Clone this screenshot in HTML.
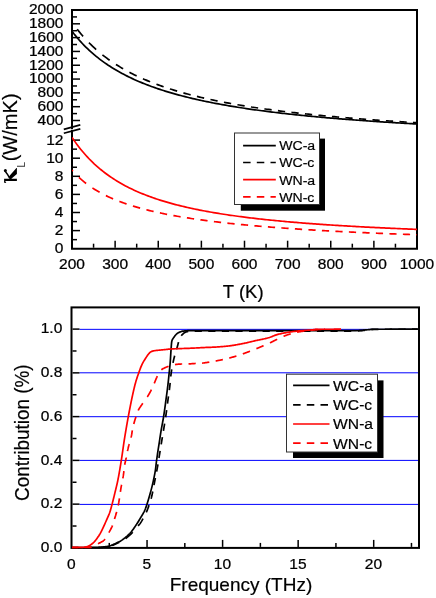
<!DOCTYPE html>
<html><head><meta charset="utf-8"><title>chart</title>
<style>html,body{margin:0;padding:0;background:#fff;}svg{display:block;will-change:transform;}</style></head>
<body>
<svg width="436" height="598" viewBox="0 0 436 598">
<rect width="436" height="598" fill="#fff"/>
<g stroke="#000" fill="none" stroke-width="2" stroke-linecap="square">
<path d="M72.0,248.7 L417.0,248.7 L417.0,10.0 L72.0,10.0 L72.0,128.2 M72.0,131.0 L72.0,248.7"/>
</g>
<g stroke="#000" fill="none" stroke-width="1.5">
<path d="M73.0,120.50 h7"/>
<path d="M73.0,113.59 h4"/>
<path d="M73.0,106.69 h7"/>
<path d="M73.0,99.78 h4"/>
<path d="M73.0,92.88 h7"/>
<path d="M73.0,85.97 h4"/>
<path d="M73.0,79.06 h7"/>
<path d="M73.0,72.16 h4"/>
<path d="M73.0,65.25 h7"/>
<path d="M73.0,58.34 h4"/>
<path d="M73.0,51.44 h7"/>
<path d="M73.0,44.53 h4"/>
<path d="M73.0,37.62 h7"/>
<path d="M73.0,30.72 h4"/>
<path d="M73.0,23.81 h7"/>
<path d="M73.0,16.91 h4"/>
<path d="M73.0,239.65 h4"/>
<path d="M73.0,230.60 h7"/>
<path d="M73.0,221.55 h4"/>
<path d="M73.0,212.50 h7"/>
<path d="M73.0,203.45 h4"/>
<path d="M73.0,194.40 h7"/>
<path d="M73.0,185.35 h4"/>
<path d="M73.0,176.30 h7"/>
<path d="M73.0,167.25 h4"/>
<path d="M73.0,158.20 h7"/>
<path d="M73.0,149.15 h4"/>
<path d="M73.0,140.10 h7"/>
<path d="M93.56,247.7 v-4"/>
<path d="M115.12,247.7 v-7"/>
<path d="M136.69,247.7 v-4"/>
<path d="M158.25,247.7 v-7"/>
<path d="M179.81,247.7 v-4"/>
<path d="M201.38,247.7 v-7"/>
<path d="M222.94,247.7 v-4"/>
<path d="M244.50,247.7 v-7"/>
<path d="M266.06,247.7 v-4"/>
<path d="M287.62,247.7 v-7"/>
<path d="M309.19,247.7 v-4"/>
<path d="M330.75,247.7 v-7"/>
<path d="M352.31,247.7 v-4"/>
<path d="M373.88,247.7 v-7"/>
<path d="M395.44,247.7 v-4"/>
<path d="M63.8,129.4 L80.3,124.9 M63.8,133.2 L80.3,128.9" stroke-width="1.7"/>
</g>
<clipPath id="c1"><rect x="72.0" y="10.0" width="345.3" height="239.7"/></clipPath>
<g clip-path="url(#c1)" fill="none" stroke-width="1.70">
<path d="M72.00,31.20 L73.72,33.45 L75.45,35.61 L77.17,37.69 L78.90,39.70 L80.62,41.63 L82.35,43.49 L84.08,45.29 L85.80,47.03 L87.53,48.71 L89.25,50.33 L90.97,51.90 L92.70,53.43 L94.42,54.90 L96.15,56.33 L97.88,57.71 L99.60,59.05 L101.33,60.36 L103.05,61.62 L104.78,62.85 L106.50,64.04 L108.22,65.21 L109.95,66.33 L111.68,67.43 L113.40,68.50 L115.12,69.54 L116.85,70.56 L118.58,71.54 L120.30,72.50 L122.03,73.44 L123.75,74.36 L125.47,75.25 L127.20,76.12 L128.93,76.97 L130.65,77.80 L132.38,78.61 L134.10,79.41 L135.82,80.18 L137.55,80.94 L139.28,81.68 L141.00,82.40 L142.73,83.11 L144.45,83.80 L146.18,84.48 L147.90,85.14 L149.62,85.79 L151.35,86.43 L153.07,87.05 L154.80,87.66 L156.53,88.26 L158.25,88.85 L159.98,89.42 L161.70,89.99 L163.43,90.54 L165.15,91.08 L166.88,91.62 L168.60,92.14 L170.32,92.65 L172.05,93.15 L173.78,93.65 L175.50,94.13 L177.23,94.61 L178.95,95.08 L180.68,95.54 L182.40,95.99 L184.12,96.44 L185.85,96.87 L187.57,97.30 L189.30,97.72 L191.03,98.14 L192.75,98.55 L194.48,98.95 L196.20,99.34 L197.93,99.73 L199.65,100.11 L201.38,100.49 L203.10,100.86 L204.83,101.23 L206.55,101.59 L208.28,101.94 L210.00,102.29 L211.72,102.63 L213.45,102.97 L215.18,103.30 L216.90,103.63 L218.62,103.95 L220.35,104.27 L222.08,104.58 L223.80,104.89 L225.53,105.20 L227.25,105.50 L228.97,105.79 L230.70,106.09 L232.43,106.37 L234.15,106.66 L235.88,106.94 L237.60,107.22 L239.33,107.49 L241.05,107.76 L242.78,108.02 L244.50,108.28 L246.23,108.54 L247.95,108.80 L249.68,109.05 L251.40,109.30 L253.12,109.54 L254.85,109.79 L256.58,110.03 L258.30,110.26 L260.02,110.50 L261.75,110.73 L263.48,110.95 L265.20,111.18 L266.93,111.40 L268.65,111.62 L270.38,111.84 L272.10,112.05 L273.83,112.26 L275.55,112.47 L277.27,112.68 L279.00,112.88 L280.73,113.09 L282.45,113.29 L284.18,113.48 L285.90,113.68 L287.62,113.87 L289.35,114.06 L291.08,114.25 L292.80,114.44 L294.52,114.62 L296.25,114.80 L297.98,114.98 L299.70,115.16 L301.43,115.34 L303.15,115.51 L304.88,115.69 L306.60,115.86 L308.33,116.03 L310.05,116.19 L311.77,116.36 L313.50,116.52 L315.23,116.69 L316.95,116.85 L318.68,117.00 L320.40,117.16 L322.12,117.32 L323.85,117.47 L325.58,117.62 L327.30,117.78 L329.03,117.92 L330.75,118.07 L332.48,118.22 L334.20,118.36 L335.93,118.51 L337.65,118.65 L339.38,118.79 L341.10,118.93 L342.82,119.07 L344.55,119.21 L346.28,119.34 L348.00,119.48 L349.73,119.61 L351.45,119.74 L353.18,119.87 L354.90,120.00 L356.62,120.13 L358.35,120.26 L360.07,120.38 L361.80,120.51 L363.53,120.63 L365.25,120.75 L366.98,120.87 L368.70,120.99 L370.43,121.11 L372.15,121.23 L373.88,121.35 L375.60,121.46 L377.32,121.58 L379.05,121.69 L380.78,121.81 L382.50,121.92 L384.23,122.03 L385.95,122.14 L387.68,122.25 L389.40,122.36 L391.12,122.47 L392.85,122.57 L394.57,122.68 L396.30,122.78 L398.03,122.89 L399.75,122.99 L401.48,123.09 L403.20,123.19 L404.93,123.29 L406.65,123.39 L408.38,123.49 L410.10,123.59 L411.83,123.69 L413.55,123.78 L415.28,123.88 L417.00,123.98" stroke="#000000"/>
<path d="M72.00,22.07 L72.56,22.87 M77.17,29.17 L78.90,31.36 L80.62,33.47 L82.35,35.51 L83.10,36.37 M88.95,42.67 L89.25,42.98 L90.97,44.70 L92.70,46.36 L94.42,47.96 L96.14,49.51 M102.44,54.80 L103.05,55.29 L104.78,56.63 L106.50,57.93 L108.22,59.20 L109.64,60.20 M115.94,64.44 L116.85,65.02 L118.58,66.09 L120.30,67.14 L122.03,68.16 L123.14,68.80 M129.44,72.26 L130.65,72.90 L132.38,73.78 L134.10,74.64 L135.82,75.48 L136.64,75.86 M142.94,78.75 L144.45,79.41 L146.18,80.14 L147.90,80.86 L149.62,81.57 L150.14,81.77 M156.44,84.21 L156.53,84.24 L158.25,84.88 L159.98,85.50 L161.70,86.11 L163.43,86.71 L163.64,86.78 M169.94,88.87 L170.32,89.00 L172.05,89.54 L173.78,90.08 L175.50,90.60 L177.14,91.09 M183.44,92.90 L184.12,93.09 L185.85,93.56 L187.57,94.03 L189.30,94.48 L190.64,94.83 M196.94,96.41 L197.93,96.65 L199.65,97.06 L201.38,97.47 L203.10,97.87 L204.14,98.11 M210.44,99.50 L211.72,99.78 L213.45,100.14 L215.18,100.50 L216.90,100.86 L217.64,101.01 M223.94,102.25 L225.53,102.55 L227.25,102.87 L228.97,103.19 L230.70,103.51 L231.14,103.59 M237.44,104.69 L237.60,104.72 L239.33,105.02 L241.05,105.31 L242.78,105.59 L244.50,105.87 L244.64,105.90 M250.94,106.89 L251.40,106.97 L253.12,107.23 L254.85,107.49 L256.58,107.75 L258.14,107.98 M264.44,108.88 L265.20,108.99 L266.93,109.23 L268.65,109.46 L270.38,109.70 L271.64,109.87 M277.94,110.69 L279.00,110.82 L280.73,111.04 L282.45,111.25 L284.18,111.47 L285.14,111.58 M291.44,112.33 L292.80,112.49 L294.52,112.69 L296.25,112.88 L297.98,113.08 L298.64,113.15 M304.94,113.84 L306.60,114.02 L308.33,114.20 L310.05,114.38 L311.77,114.55 L312.14,114.59 M318.44,115.22 L318.68,115.25 L320.40,115.42 L322.12,115.58 L323.85,115.75 L325.58,115.91 L325.64,115.92 M331.94,116.50 L332.48,116.55 L334.20,116.70 L335.93,116.86 L337.65,117.01 L339.14,117.14 M345.44,117.68 L346.28,117.75 L348.00,117.90 L349.73,118.04 L351.45,118.18 L352.64,118.28 M358.94,118.78 L360.07,118.87 L361.80,119.00 L363.53,119.13 L365.25,119.26 L366.14,119.33 M372.44,119.80 L373.88,119.90 L375.60,120.03 L377.32,120.15 L379.05,120.27 L379.64,120.31 M385.94,120.75 L385.95,120.75 L387.68,120.87 L389.40,120.98 L391.12,121.10 L392.85,121.21 L393.14,121.23 M399.44,121.64 L399.75,121.66 L401.48,121.77 L403.20,121.87 L404.93,121.98 L406.64,122.09 M412.94,122.47 L413.55,122.51 L415.28,122.61 L417.00,122.71" stroke="#000000"/>
<path d="M72.00,137.37 L73.72,139.93 L75.45,142.38 L77.17,144.74 L78.90,147.01 L80.62,149.19 L82.35,151.29 L84.08,153.32 L85.80,155.27 L87.53,157.15 L89.25,158.97 L90.97,160.72 L92.70,162.40 L94.42,164.04 L96.15,165.61 L97.88,167.13 L99.60,168.61 L101.33,170.03 L103.05,171.41 L104.78,172.74 L106.50,174.03 L108.22,175.28 L109.95,176.49 L111.68,177.66 L113.40,178.80 L115.12,179.91 L116.85,180.98 L118.58,182.02 L120.30,183.03 L122.03,184.01 L123.75,184.96 L125.47,185.89 L127.20,186.79 L128.93,187.66 L130.65,188.51 L132.38,189.34 L134.10,190.15 L135.82,190.94 L137.55,191.70 L139.28,192.45 L141.00,193.17 L142.73,193.88 L144.45,194.57 L146.18,195.24 L147.90,195.90 L149.62,196.54 L151.35,197.17 L153.07,197.78 L154.80,198.37 L156.53,198.96 L158.25,199.52 L159.98,200.08 L161.70,200.62 L163.43,201.15 L165.15,201.67 L166.88,202.18 L168.60,202.68 L170.32,203.16 L172.05,203.64 L173.78,204.10 L175.50,204.56 L177.23,205.00 L178.95,205.44 L180.68,205.87 L182.40,206.29 L184.12,206.70 L185.85,207.10 L187.57,207.49 L189.30,207.88 L191.03,208.26 L192.75,208.63 L194.48,208.99 L196.20,209.35 L197.93,209.70 L199.65,210.05 L201.38,210.38 L203.10,210.71 L204.83,211.04 L206.55,211.36 L208.28,211.67 L210.00,211.98 L211.72,212.28 L213.45,212.58 L215.18,212.87 L216.90,213.16 L218.62,213.44 L220.35,213.72 L222.08,213.99 L223.80,214.26 L225.53,214.52 L227.25,214.78 L228.97,215.04 L230.70,215.29 L232.43,215.53 L234.15,215.78 L235.88,216.01 L237.60,216.25 L239.33,216.48 L241.05,216.71 L242.78,216.93 L244.50,217.15 L246.23,217.37 L247.95,217.58 L249.68,217.79 L251.40,218.00 L253.12,218.21 L254.85,218.41 L256.58,218.61 L258.30,218.80 L260.02,218.99 L261.75,219.18 L263.48,219.37 L265.20,219.55 L266.93,219.74 L268.65,219.92 L270.38,220.09 L272.10,220.27 L273.83,220.44 L275.55,220.61 L277.27,220.77 L279.00,220.94 L280.73,221.10 L282.45,221.26 L284.18,221.42 L285.90,221.58 L287.62,221.73 L289.35,221.88 L291.08,222.03 L292.80,222.18 L294.52,222.33 L296.25,222.47 L297.98,222.61 L299.70,222.75 L301.43,222.89 L303.15,223.03 L304.88,223.17 L306.60,223.30 L308.33,223.43 L310.05,223.56 L311.77,223.69 L313.50,223.82 L315.23,223.94 L316.95,224.07 L318.68,224.19 L320.40,224.31 L322.12,224.43 L323.85,224.55 L325.58,224.67 L327.30,224.78 L329.03,224.90 L330.75,225.01 L332.48,225.12 L334.20,225.23 L335.93,225.34 L337.65,225.45 L339.38,225.56 L341.10,225.66 L342.82,225.77 L344.55,225.87 L346.28,225.97 L348.00,226.07 L349.73,226.17 L351.45,226.27 L353.18,226.37 L354.90,226.47 L356.62,226.56 L358.35,226.66 L360.07,226.75 L361.80,226.85 L363.53,226.94 L365.25,227.03 L366.98,227.12 L368.70,227.21 L370.43,227.29 L372.15,227.38 L373.88,227.47 L375.60,227.55 L377.32,227.64 L379.05,227.72 L380.78,227.81 L382.50,227.89 L384.23,227.97 L385.95,228.05 L387.68,228.13 L389.40,228.21 L391.12,228.29 L392.85,228.36 L394.57,228.44 L396.30,228.52 L398.03,228.59 L399.75,228.66 L401.48,228.74 L403.20,228.81 L404.93,228.88 L406.65,228.96 L408.38,229.03 L410.10,229.10 L411.83,229.17 L413.55,229.24 L415.28,229.30 L417.00,229.37" stroke="#ff0000"/>
<path d="M72.00,170.15 L72.85,171.12 M78.90,177.35 L80.62,178.93 L82.35,180.43 L84.08,181.86 L85.80,183.23 L86.10,183.46 M92.40,187.94 L92.70,188.14 L94.42,189.24 L96.15,190.30 L97.88,191.32 L99.60,192.30 L99.60,192.30 M105.90,195.58 L106.50,195.88 L108.22,196.70 L109.95,197.49 L111.68,198.26 L113.10,198.87 M119.40,201.41 L120.30,201.75 L122.03,202.38 L123.75,203.00 L125.47,203.61 L126.60,203.99 M132.90,206.01 L134.10,206.38 L135.82,206.89 L137.55,207.39 L139.28,207.88 L140.10,208.10 M146.40,209.77 L147.90,210.14 L149.62,210.57 L151.35,210.98 L153.07,211.38 L153.60,211.50 M159.90,212.90 L159.98,212.91 L161.70,213.27 L163.43,213.63 L165.15,213.98 L166.88,214.32 L167.10,214.36 M173.40,215.55 L173.78,215.62 L175.50,215.93 L177.23,216.23 L178.95,216.53 L180.60,216.81 M186.90,217.83 L187.57,217.94 L189.30,218.21 L191.03,218.47 L192.75,218.73 L194.10,218.93 M200.40,219.82 L201.38,219.96 L203.10,220.19 L204.83,220.42 L206.55,220.65 L207.60,220.78 M213.90,221.57 L215.18,221.73 L216.90,221.93 L218.62,222.14 L220.35,222.34 L221.10,222.42 M227.40,223.13 L228.97,223.30 L230.70,223.48 L232.43,223.66 L234.15,223.84 L234.60,223.89 M240.90,224.52 L241.05,224.53 L242.78,224.70 L244.50,224.86 L246.23,225.02 L247.95,225.19 L248.10,225.20 M254.40,225.77 L254.85,225.81 L256.58,225.96 L258.30,226.11 L260.02,226.25 L261.60,226.38 M267.90,226.90 L268.65,226.96 L270.38,227.10 L272.10,227.23 L273.83,227.36 L275.10,227.46 M281.40,227.93 L282.45,228.01 L284.18,228.13 L285.90,228.25 L287.62,228.37 L288.60,228.44 M294.90,228.87 L296.25,228.96 L297.98,229.08 L299.70,229.19 L301.43,229.30 L302.10,229.34 M308.40,229.74 L310.05,229.84 L311.77,229.94 L313.50,230.05 L315.23,230.15 L315.60,230.17 M321.90,230.53 L322.12,230.55 L323.85,230.64 L325.58,230.74 L327.30,230.84 L329.03,230.93 L329.10,230.93 M335.40,231.27 L335.93,231.30 L337.65,231.39 L339.38,231.48 L341.10,231.57 L342.60,231.64 M348.90,231.95 L349.73,231.99 L351.45,232.08 L353.18,232.16 L354.90,232.24 L356.10,232.30 M362.40,232.59 L363.53,232.64 L365.25,232.72 L366.98,232.80 L368.70,232.87 L369.60,232.91 M375.90,233.18 L377.32,233.24 L379.05,233.31 L380.78,233.39 L382.50,233.46 L383.10,233.48 M389.40,233.74 L391.12,233.80 L392.85,233.87 L394.57,233.94 L396.30,234.01 L396.60,234.02 M402.90,234.26 L403.20,234.27 L404.93,234.33 L406.65,234.39 L408.38,234.46 L410.10,234.52 M416.40,234.74 L417.00,234.76" stroke="#ff0000"/>
</g>
<rect x="240.8" y="138.6" width="84.19999999999999" height="72.1" fill="#000"/>
<rect x="234.5" y="133.0" width="85" height="71.5" fill="#fff" stroke="#333" stroke-width="1"/>
<path d="M243.1,145.6 L275.8,145.6" stroke="#000000" stroke-width="1.7" fill="none"/>
<text transform="matrix(1.03 0.0002 0 1 279.2 150.4)" font-family="Liberation Sans, sans-serif" font-size="13.7" fill="#000" stroke="#000" stroke-width="0.2">WC-a</text>
<path d="M243.1,162.5 L275.8,162.5" stroke="#000000" stroke-width="1.7" stroke-dasharray="7.5 6.2" fill="none"/>
<text transform="matrix(1.03 0.0002 0 1 279.2 167.3)" font-family="Liberation Sans, sans-serif" font-size="13.7" fill="#000" stroke="#000" stroke-width="0.2">WC-c</text>
<path d="M243.1,179.7 L275.8,179.7" stroke="#ff0000" stroke-width="1.7" fill="none"/>
<text transform="matrix(1.03 0.0002 0 1 279.2 184.5)" font-family="Liberation Sans, sans-serif" font-size="13.7" fill="#000" stroke="#000" stroke-width="0.2">WN-a</text>
<path d="M243.1,196.8 L275.8,196.8" stroke="#ff0000" stroke-width="1.7" stroke-dasharray="7.5 6.2" fill="none"/>
<text transform="matrix(1.03 0.0002 0 1 279.2 201.60000000000002)" font-family="Liberation Sans, sans-serif" font-size="13.7" fill="#000" stroke="#000" stroke-width="0.2">WN-c</text>
<g font-family="Liberation Sans, sans-serif" font-size="15" fill="#000" stroke="#000" stroke-width="0.25">
<text transform="matrix(1.035 0.0002 0 1 63.5 124.90)" text-anchor="end">400</text>
<text transform="matrix(1.035 0.0002 0 1 63.5 111.09)" text-anchor="end">600</text>
<text transform="matrix(1.035 0.0002 0 1 63.5 97.28)" text-anchor="end">800</text>
<text transform="matrix(1.035 0.0002 0 1 63.5 83.46)" text-anchor="end">1000</text>
<text transform="matrix(1.035 0.0002 0 1 63.5 69.65)" text-anchor="end">1200</text>
<text transform="matrix(1.035 0.0002 0 1 63.5 55.84)" text-anchor="end">1400</text>
<text transform="matrix(1.035 0.0002 0 1 63.5 42.02)" text-anchor="end">1600</text>
<text transform="matrix(1.035 0.0002 0 1 63.5 28.21)" text-anchor="end">1800</text>
<text transform="matrix(1.035 0.0002 0 1 63.5 14.40)" text-anchor="end">2000</text>
<text transform="matrix(1.035 0.0002 0 1 63.5 253.20)" text-anchor="end">0</text>
<text transform="matrix(1.035 0.0002 0 1 63.5 235.10)" text-anchor="end">2</text>
<text transform="matrix(1.035 0.0002 0 1 63.5 217.00)" text-anchor="end">4</text>
<text transform="matrix(1.035 0.0002 0 1 63.5 198.90)" text-anchor="end">6</text>
<text transform="matrix(1.035 0.0002 0 1 63.5 180.80)" text-anchor="end">8</text>
<text transform="matrix(1.035 0.0002 0 1 63.5 162.70)" text-anchor="end">10</text>
<text transform="matrix(1.035 0.0002 0 1 63.5 144.60)" text-anchor="end">12</text>
<text transform="matrix(1.035 0.0002 0 1 72.00 269.1)" text-anchor="middle">200</text>
<text transform="matrix(1.035 0.0002 0 1 115.12 269.1)" text-anchor="middle">300</text>
<text transform="matrix(1.035 0.0002 0 1 158.25 269.1)" text-anchor="middle">400</text>
<text transform="matrix(1.035 0.0002 0 1 201.38 269.1)" text-anchor="middle">500</text>
<text transform="matrix(1.035 0.0002 0 1 244.50 269.1)" text-anchor="middle">600</text>
<text transform="matrix(1.035 0.0002 0 1 287.62 269.1)" text-anchor="middle">700</text>
<text transform="matrix(1.035 0.0002 0 1 330.75 269.1)" text-anchor="middle">800</text>
<text transform="matrix(1.035 0.0002 0 1 373.88 269.1)" text-anchor="middle">900</text>
<text transform="matrix(1.035 0.0002 0 1 417.00 269.1)" text-anchor="middle">1000</text>
</g>
<text transform="matrix(1 0.0002 0 1 0 0)" x="243.2" y="297.6" text-anchor="middle" font-family="Liberation Sans, sans-serif" font-size="18.5" fill="#000" stroke="#000" stroke-width="0.2">T (K)</text>
<g transform="translate(17.2,183.5) rotate(-90)" fill="#000">
<path d="M2.4,-13.1 H4.7 V-0.3 H2.4 Z M0.4,-10.9 L0.8,-13.1 L2.5,-13.1 L2.5,-12.0 Z M4.7,-7.4 L6.8,-8.5 L15.4,-0.8 L15.4,-0.3 L9.4,-0.3 L4.7,-5.9 Z" fill="#000"/>
<path d="M5.0,-7.4 Q9.0,-9.3 12.7,-12.4" fill="none" stroke="#000" stroke-width="1.5"/><circle cx="13.0" cy="-11.8" r="1.5" fill="#000"/>
<text x="16" y="7.5" font-family="Liberation Sans, sans-serif" font-size="10" fill="#333">L</text>
<text transform="translate(22.2,0) scale(0.955,1)" x="0" y="0" font-family="Liberation Sans, sans-serif" font-size="21" stroke="#000" stroke-width="0.2">(W/mK)</text>
</g>
<g stroke="#0000ff" stroke-width="1" fill="none">
<path d="M79.5,504.40 L418.2,504.40"/>
<path d="M79.5,460.40 L418.2,460.40"/>
<path d="M79.5,416.70 L418.2,416.70"/>
<path d="M79.5,372.80 L418.2,372.80"/>
<path d="M79.5,329.35 L418.2,329.35"/>
</g>
<g stroke="#000" fill="none" stroke-width="2" stroke-linecap="square">
<rect x="71.5" y="307.4" width="347.5" height="240.5"/>
</g>
<g stroke="#000" fill="none" stroke-width="1.5">
<path d="M72.5,526.02 h4"/>
<path d="M72.5,504.14 h7"/>
<path d="M72.5,482.26 h4"/>
<path d="M72.5,460.38 h7"/>
<path d="M72.5,438.50 h4"/>
<path d="M72.5,416.62 h7"/>
<path d="M72.5,394.74 h4"/>
<path d="M72.5,372.86 h7"/>
<path d="M72.5,350.98 h4"/>
<path d="M72.5,329.10 h7"/>
<path d="M109.28,546.9 v-4"/>
<path d="M147.05,546.9 v-7"/>
<path d="M184.82,546.9 v-4"/>
<path d="M222.60,546.9 v-7"/>
<path d="M260.38,546.9 v-4"/>
<path d="M298.15,546.9 v-7"/>
<path d="M335.93,546.9 v-4"/>
<path d="M373.70,546.9 v-7"/>
<path d="M411.47,546.9 v-4"/>
</g>
<clipPath id="c2"><rect x="71.5" y="307.4" width="346.3" height="241.7"/></clipPath>
<g clip-path="url(#c2)" fill="none" stroke-width="1.70" stroke-linejoin="round">
<path d="M72.00,547.60 L73.03,547.59 L74.06,547.58 L75.08,547.57 L76.11,547.56 L77.14,547.55 L78.17,547.54 L79.20,547.53 L80.22,547.53 L81.25,547.52 L82.28,547.51 L83.31,547.50 L84.34,547.49 L85.36,547.49 L86.39,547.48 L87.42,547.47 L88.45,547.46 L89.48,547.45 L90.50,547.44 L91.53,547.43 L92.56,547.41 L93.59,547.40 L94.61,547.39 L95.64,547.37 L96.66,547.36 L97.69,547.34 L98.72,547.32 L99.74,547.30 L100.77,547.27 L101.79,547.19 L102.82,547.09 L103.84,546.96 L104.86,546.82 L105.87,546.67 L106.89,546.50 L107.90,546.30 L108.91,546.08 L109.90,545.83 L110.87,545.53 L111.83,545.17 L112.78,544.77 L113.72,544.34 L114.65,543.90 L115.59,543.46 L116.52,543.03 L117.45,542.59 L118.38,542.14 L119.30,541.66 L120.20,541.17 L121.07,540.65 L121.94,540.10 L122.78,539.52 L123.62,538.92 L124.44,538.29 L125.25,537.65 L126.04,536.99 L126.82,536.33 L127.58,535.64 L128.33,534.93 L129.07,534.21 L129.79,533.47 L130.48,532.71 L131.15,531.94 L131.80,531.15 L132.42,530.34 L133.03,529.51 L133.62,528.67 L134.21,527.82 L134.79,526.96 L135.36,526.11 L135.93,525.25 L136.50,524.40 L137.06,523.54 L137.62,522.67 L138.17,521.80 L138.71,520.93 L139.25,520.05 L139.78,519.17 L140.31,518.29 L140.83,517.41 L141.36,516.52 L141.89,515.64 L142.42,514.75 L142.93,513.85 L143.43,512.95 L143.92,512.05 L144.38,511.13 L144.81,510.21 L145.21,509.27 L145.58,508.32 L145.93,507.35 L146.26,506.37 L146.58,505.39 L146.90,504.41 L147.21,503.44 L147.52,502.46 L147.83,501.48 L148.14,500.50 L148.44,499.51 L148.74,498.53 L149.03,497.54 L149.32,496.56 L149.61,495.57 L149.89,494.58 L150.16,493.59 L150.44,492.60 L150.70,491.61 L150.97,490.62 L151.23,489.62 L151.49,488.63 L151.74,487.63 L151.99,486.63 L152.24,485.64 L152.48,484.64 L152.71,483.64 L152.94,482.63 L153.16,481.63 L153.38,480.63 L153.59,479.62 L153.81,478.62 L154.02,477.61 L154.22,476.60 L154.42,475.59 L154.61,474.58 L154.80,473.57 L154.98,472.56 L155.16,471.55 L155.32,470.54 L155.47,469.52 L155.61,468.50 L155.74,467.49 L155.87,466.47 L155.98,465.44 L156.10,464.42 L156.22,463.40 L156.34,462.38 L156.46,461.36 L156.59,460.34 L156.73,459.32 L156.88,458.31 L157.02,457.29 L157.17,456.27 L157.32,455.26 L157.47,454.24 L157.62,453.22 L157.77,452.21 L157.93,451.19 L158.08,450.18 L158.24,449.16 L158.40,448.14 L158.55,447.13 L158.71,446.11 L158.87,445.10 L159.03,444.08 L159.18,443.07 L159.34,442.05 L159.49,441.04 L159.65,440.02 L159.80,439.00 L159.95,437.99 L160.11,436.97 L160.26,435.96 L160.42,434.94 L160.57,433.92 L160.73,432.91 L160.89,431.89 L161.05,430.88 L161.22,429.87 L161.40,428.85 L161.58,427.84 L161.76,426.83 L161.95,425.82 L162.14,424.81 L162.33,423.80 L162.52,422.79 L162.71,421.78 L162.90,420.77 L163.08,419.76 L163.26,418.75 L163.43,417.74 L163.60,416.72 L163.75,415.71 L163.91,414.69 L164.06,413.68 L164.21,412.66 L164.36,411.64 L164.50,410.63 L164.64,409.61 L164.79,408.59 L164.92,407.57 L165.06,406.55 L165.20,405.53 L165.34,404.52 L165.47,403.50 L165.61,402.48 L165.74,401.46 L165.88,400.44 L166.02,399.42 L166.15,398.40 L166.29,397.39 L166.43,396.37 L166.57,395.35 L166.71,394.33 L166.84,393.31 L166.98,392.29 L167.11,391.28 L167.25,390.26 L167.38,389.24 L167.51,388.22 L167.64,387.20 L167.76,386.18 L167.88,385.16 L168.00,384.14 L168.11,383.12 L168.23,382.10 L168.34,381.07 L168.45,380.05 L168.55,379.03 L168.66,378.01 L168.76,376.99 L168.87,375.96 L168.97,374.94 L169.08,373.92 L169.18,372.90 L169.28,371.88 L169.39,370.85 L169.50,369.83 L169.60,368.81 L169.71,367.79 L169.81,366.76 L169.91,365.74 L170.01,364.72 L170.10,363.70 L170.19,362.67 L170.27,361.65 L170.34,360.62 L170.41,359.60 L170.48,358.57 L170.54,357.55 L170.60,356.52 L170.66,355.50 L170.72,354.47 L170.79,353.44 L170.85,352.42 L170.92,351.39 L170.99,350.37 L171.06,349.34 L171.14,348.32 L171.21,347.28 L171.28,346.24 L171.36,345.19 L171.44,344.16 L171.54,343.14 L171.66,342.13 L171.81,341.16 L172.09,340.21 L172.56,339.28 L173.14,338.38 L173.74,337.52 L174.33,336.69 L174.97,335.84 L175.64,335.01 L176.37,334.24 L177.13,333.56 L177.93,333.03 L178.80,332.56 L179.74,332.12 L180.73,331.73 L181.74,331.41 L182.76,331.18 L183.76,331.05 L184.77,330.94 L185.80,330.84 L186.83,330.77 L187.86,330.72 L188.89,330.70 L189.92,330.69 L190.95,330.69 L191.97,330.68 L193.00,330.68 L194.03,330.67 L195.06,330.67 L196.08,330.67 L197.11,330.66 L198.14,330.66 L199.17,330.66 L200.19,330.65 L201.22,330.65 L202.25,330.65 L203.28,330.65 L204.31,330.65 L205.33,330.65 L206.36,330.65 L207.39,330.65 L208.42,330.65 L209.44,330.65 L210.47,330.65 L211.50,330.65 L212.53,330.65 L213.55,330.65 L214.58,330.65 L215.61,330.65 L216.64,330.65 L217.66,330.65 L218.69,330.65 L219.72,330.65 L220.75,330.65 L221.77,330.65 L222.80,330.65 L223.83,330.65 L224.86,330.65 L225.88,330.65 L226.91,330.65 L227.94,330.65 L228.97,330.65 L229.99,330.65 L231.02,330.65 L232.05,330.65 L233.08,330.65 L234.10,330.65 L235.13,330.65 L236.16,330.65 L237.19,330.65 L238.21,330.65 L239.24,330.65 L240.27,330.65 L241.30,330.65 L242.32,330.65 L243.35,330.65 L244.38,330.65 L245.41,330.65 L246.43,330.65 L247.46,330.65 L248.49,330.65 L249.52,330.65 L250.54,330.65 L251.57,330.65 L252.60,330.65 L253.63,330.65 L254.65,330.65 L255.68,330.65 L256.71,330.65 L257.74,330.65 L258.76,330.65 L259.79,330.65 L260.82,330.65 L261.85,330.65 L262.87,330.65 L263.90,330.65 L264.93,330.65 L265.96,330.65 L266.98,330.65 L268.01,330.65 L269.04,330.65 L270.07,330.65 L271.09,330.65 L272.12,330.65 L273.15,330.65 L274.18,330.65 L275.20,330.65 L276.23,330.65 L277.26,330.65 L278.29,330.65 L279.31,330.65 L280.34,330.65 L281.37,330.65 L282.40,330.65 L283.42,330.65 L284.45,330.65 L285.48,330.65 L286.51,330.65 L287.53,330.65 L288.56,330.65 L289.59,330.65 L290.62,330.65 L291.64,330.65 L292.67,330.65 L293.70,330.65 L294.73,330.65 L295.75,330.65 L296.78,330.65 L297.81,330.65 L298.84,330.65 L299.86,330.65 L300.89,330.65 L301.92,330.65 L302.95,330.65 L303.97,330.65 L305.00,330.65 L306.03,330.65 L307.06,330.65 L308.08,330.65 L309.11,330.65 L310.14,330.65 L311.17,330.65 L312.19,330.65 L313.22,330.65 L314.25,330.65 L315.28,330.65 L316.30,330.65 L317.33,330.65 L318.36,330.65 L319.39,330.65 L320.41,330.65 L321.44,330.65 L322.47,330.65 L323.50,330.65 L324.53,330.65 L325.55,330.65 L326.58,330.65 L327.61,330.65 L328.64,330.65 L329.66,330.65 L330.69,330.65 L331.72,330.65 L332.75,330.65 L333.77,330.65 L334.80,330.65 L335.83,330.65 L336.86,330.65 L337.88,330.65 L338.91,330.65 L339.94,330.65 L340.97,330.65 L341.99,330.65 L343.02,330.65 L344.05,330.65 L345.07,330.65 L346.10,330.65 L347.13,330.65 L348.16,330.65 L349.18,330.65 L350.21,330.65 L351.24,330.65 L352.27,330.65 L353.29,330.64 L354.32,330.62 L355.35,330.60 L356.38,330.56 L357.40,330.52 L358.43,330.48 L359.46,330.43 L360.48,330.38 L361.51,330.33 L362.53,330.27 L363.56,330.18 L364.58,330.08 L365.60,329.97 L366.62,329.85 L367.64,329.73 L368.67,329.63 L369.69,329.54 L370.71,329.44 L371.74,329.36 L372.76,329.29 L373.79,329.25 L374.82,329.25 L375.84,329.25 L376.87,329.24 L377.90,329.24 L378.92,329.24 L379.95,329.24 L380.98,329.24 L382.00,329.24 L383.03,329.23 L384.06,329.23 L385.08,329.23 L386.11,329.23 L387.14,329.23 L388.17,329.23 L389.19,329.23 L390.22,329.22 L391.25,329.22 L392.28,329.22 L393.30,329.22 L394.33,329.22 L395.36,329.22 L396.39,329.22 L397.42,329.22 L398.44,329.22 L399.47,329.22 L400.50,329.22 L401.53,329.21 L402.56,329.21 L403.58,329.21 L404.61,329.21 L405.64,329.21 L406.67,329.21 L407.69,329.21 L408.72,329.21 L409.75,329.21 L410.78,329.21 L411.81,329.21 L412.83,329.21 L413.86,329.21 L414.89,329.20 L415.92,329.20 L416.94,329.20 L417.97,329.20 L419.00,329.20" stroke="#000000"/>
<path d="M72.00,547.60 L72.57,547.60 L73.13,547.59 L73.70,547.59 L74.27,547.58 L74.83,547.58 L75.40,547.58 L75.96,547.57 L76.53,547.57 L77.10,547.57 L77.66,547.56 L78.23,547.56 L78.44,547.56 M84.82,547.53 L85.03,547.53 L85.59,547.52 L86.16,547.52 L86.73,547.52 L87.29,547.51 L87.86,547.51 L88.43,547.51 L88.99,547.50 L89.56,547.50 L90.12,547.49 L90.69,547.49 L91.26,547.49 L91.82,547.48 L92.02,547.48 M98.40,547.42 L98.61,547.42 L99.18,547.41 L99.75,547.40 L100.31,547.39 L100.88,547.38 L101.45,547.36 L102.01,547.33 L102.58,547.30 L103.15,547.26 L103.71,547.21 L104.28,547.17 L104.84,547.12 L105.40,547.06 L105.60,547.04 M111.98,545.48 L111.99,545.47 L112.52,545.28 L113.05,545.08 L113.58,544.87 L114.10,544.65 L114.62,544.42 L115.14,544.19 L115.66,543.96 L116.18,543.73 L116.70,543.50 L117.22,543.27 L117.73,543.04 L118.25,542.81 L118.77,542.57 L119.18,542.37 M125.56,538.59 L125.59,538.57 L126.05,538.22 L126.50,537.88 L126.95,537.53 L127.39,537.18 L127.83,536.82 L128.27,536.46 L128.70,536.10 L129.13,535.73 L129.55,535.36 L129.98,534.98 L130.39,534.59 L130.81,534.20 L131.22,533.81 L131.62,533.41 L132.02,533.01 L132.42,532.61 L132.74,532.27 M138.05,525.89 L138.24,525.67 L138.61,525.24 L139.00,524.82 L139.39,524.40 L139.76,523.98 L140.12,523.55 L140.45,523.09 L140.76,522.63 L141.07,522.15 L141.36,521.67 L141.65,521.18 L141.94,520.69 L142.22,520.19 L142.49,519.70 L142.76,519.20 L143.03,518.69 L143.03,518.69 M146.28,512.31 L146.37,512.12 L146.60,511.61 L146.83,511.09 L147.06,510.57 L147.28,510.05 L147.49,509.53 L147.70,509.01 L147.90,508.48 L148.09,507.95 L148.29,507.41 L148.47,506.88 L148.66,506.34 L148.84,505.80 L149.02,505.26 L149.07,505.11 M151.08,498.73 L151.22,498.24 L151.37,497.69 L151.52,497.14 L151.65,496.60 L151.78,496.05 L151.91,495.50 L152.04,494.95 L152.16,494.39 L152.28,493.84 L152.40,493.29 L152.52,492.74 L152.63,492.18 L152.74,491.63 L152.76,491.53 M153.97,485.15 L154.01,484.94 L154.12,484.39 L154.22,483.83 L154.33,483.27 L154.44,482.72 L154.55,482.16 L154.66,481.61 L154.77,481.05 L154.88,480.49 L154.99,479.94 L155.10,479.38 L155.21,478.83 L155.32,478.27 L155.39,477.95 M156.64,471.57 L156.74,471.05 L156.84,470.49 L156.95,469.94 L157.05,469.38 L157.15,468.82 L157.25,468.27 L157.35,467.71 L157.45,467.15 L157.55,466.59 L157.64,466.04 L157.74,465.48 L157.83,464.92 L157.93,464.37 M158.96,457.99 L159.02,457.65 L159.11,457.09 L159.20,456.54 L159.29,455.98 L159.38,455.42 L159.47,454.86 L159.56,454.30 L159.66,453.74 L159.75,453.18 L159.84,452.62 L159.93,452.06 L160.02,451.51 L160.11,450.95 L160.14,450.79 M161.17,444.41 L161.20,444.24 L161.29,443.68 L161.38,443.12 L161.48,442.56 L161.57,442.00 L161.66,441.45 L161.75,440.89 L161.84,440.33 L161.94,439.77 L162.03,439.21 L162.12,438.65 L162.22,438.09 L162.31,437.54 L162.36,437.21 M163.43,430.83 L163.53,430.28 L163.62,429.72 L163.71,429.16 L163.80,428.60 L163.89,428.04 L163.98,427.48 L164.08,426.92 L164.17,426.36 L164.26,425.80 L164.35,425.25 L164.44,424.69 L164.53,424.13 L164.61,423.63 M165.63,417.25 L165.69,416.86 L165.77,416.30 L165.85,415.74 L165.94,415.18 L166.02,414.62 L166.10,414.06 L166.18,413.50 L166.26,412.94 L166.33,412.37 L166.41,411.81 L166.49,411.25 L166.56,410.69 L166.64,410.13 L166.65,410.05 M167.47,403.67 L167.51,403.39 L167.58,402.83 L167.66,402.27 L167.73,401.71 L167.80,401.14 L167.88,400.58 L167.95,400.02 L168.03,399.46 L168.11,398.90 L168.19,398.34 L168.26,397.78 L168.34,397.22 L168.42,396.66 L168.45,396.47 M169.33,390.09 L169.35,389.92 L169.42,389.36 L169.49,388.80 L169.56,388.24 L169.63,387.68 L169.70,387.12 L169.76,386.55 L169.82,385.99 L169.88,385.43 L169.94,384.86 L170.00,384.30 L170.06,383.74 L170.11,383.17 L170.14,382.89 M170.77,376.51 L170.78,376.41 L170.85,375.84 L170.91,375.28 L170.98,374.72 L171.05,374.16 L171.12,373.60 L171.20,373.04 L171.28,372.48 L171.36,371.92 L171.44,371.36 L171.53,370.80 L171.62,370.24 L171.71,369.68 L171.77,369.31 M172.97,362.93 L173.08,362.44 L173.20,361.89 L173.31,361.33 L173.43,360.78 L173.56,360.23 L173.68,359.68 L173.80,359.13 L173.93,358.58 L174.07,358.03 L174.21,357.48 L174.35,356.93 L174.50,356.39 L174.65,355.84 L174.67,355.73 M176.55,349.35 L176.56,349.31 L176.72,348.77 L176.88,348.23 L177.04,347.68 L177.20,347.14 L177.36,346.59 L177.51,346.05 L177.66,345.50 L177.80,344.95 L177.94,344.40 L178.08,343.85 L178.21,343.29 L178.35,342.74 L178.49,342.19 L178.50,342.15 M181.27,335.77 L181.45,335.52 L181.81,335.09 L182.20,334.66 L182.61,334.26 L183.03,333.87 L183.46,333.51 L183.90,333.14 L184.36,332.78 L184.84,332.45 L185.33,332.17 L185.84,331.99 L186.37,331.85 L186.91,331.72 L187.47,331.61 L188.04,331.51 L188.29,331.47 M194.67,331.13 L194.84,331.12 L195.41,331.11 L195.98,331.11 L196.54,331.10 L197.11,331.10 L197.68,331.10 L198.24,331.10 L198.81,331.10 L199.38,331.10 L199.94,331.10 L200.51,331.10 L201.07,331.10 L201.64,331.10 L201.87,331.10 M208.25,331.10 L208.44,331.10 L209.00,331.10 L209.57,331.10 L210.14,331.10 L210.70,331.10 L211.27,331.10 L211.83,331.10 L212.40,331.10 L212.97,331.10 L213.53,331.10 L214.10,331.10 L214.67,331.10 L215.23,331.10 L215.45,331.10 M221.83,331.10 L222.03,331.10 L222.59,331.10 L223.16,331.10 L223.73,331.10 L224.29,331.10 L224.86,331.10 L225.42,331.10 L225.99,331.10 L226.56,331.10 L227.12,331.10 L227.69,331.10 L228.26,331.10 L228.82,331.10 L229.03,331.10 M235.41,331.10 L235.62,331.10 L236.18,331.10 L236.75,331.10 L237.32,331.10 L237.88,331.10 L238.45,331.10 L239.01,331.10 L239.58,331.10 L240.15,331.10 L240.71,331.10 L241.28,331.10 L241.85,331.10 L242.41,331.10 L242.61,331.10 M248.99,331.10 L249.21,331.10 L249.77,331.10 L250.34,331.10 L250.91,331.10 L251.47,331.10 L252.04,331.10 L252.60,331.10 L253.17,331.10 L253.74,331.10 L254.30,331.10 L254.87,331.10 L255.44,331.10 L256.00,331.10 L256.19,331.10 M262.57,331.10 L262.80,331.10 L263.36,331.10 L263.93,331.10 L264.50,331.10 L265.06,331.10 L265.63,331.10 L266.19,331.10 L266.76,331.10 L267.33,331.10 L267.89,331.10 L268.46,331.10 L269.03,331.10 L269.59,331.10 L269.77,331.10 M276.15,331.10 L276.39,331.10 L276.95,331.10 L277.52,331.10 L278.09,331.10 L278.65,331.10 L279.22,331.10 L279.78,331.10 L280.35,331.10 L280.92,331.10 L281.48,331.10 L282.05,331.10 L282.62,331.10 L283.18,331.10 L283.35,331.10 M289.73,331.10 L289.98,331.10 L290.54,331.10 L291.11,331.10 L291.68,331.10 L292.24,331.10 L292.81,331.10 L293.37,331.10 L293.94,331.10 L294.51,331.10 L295.07,331.10 L295.64,331.10 L296.21,331.10 L296.77,331.10 L296.93,331.10 M303.31,331.10 L303.57,331.10 L304.13,331.10 L304.70,331.10 L305.27,331.10 L305.83,331.10 L306.40,331.10 L306.97,331.10 L307.53,331.10 L308.10,331.10 L308.66,331.10 L309.23,331.10 L309.80,331.10 L310.36,331.10 L310.51,331.10 M316.89,331.10 L317.16,331.10 L317.73,331.10 L318.29,331.10 L318.86,331.10 L319.43,331.10 L319.99,331.10 L320.56,331.10 L321.12,331.10 L321.69,331.10 L322.26,331.10 L322.82,331.10 L323.39,331.10 L323.96,331.10 L324.09,331.10 M330.47,331.10 L330.75,331.10 L331.32,331.10 L331.88,331.10 L332.45,331.10 L333.02,331.10 L333.58,331.10 L334.15,331.10 L334.72,331.10 L335.28,331.10 L335.85,331.10 L336.41,331.10 L336.98,331.10 L337.55,331.10 L337.67,331.10 M344.05,331.10 L344.34,331.10 L344.91,331.10 L345.47,331.10 L346.04,331.10 L346.61,331.10 L347.17,331.10 L347.74,331.10 L348.30,331.10 L348.87,331.10 L349.44,331.10 L350.00,331.10 L350.57,331.10 L351.13,331.10 L351.25,331.10 M357.63,330.90 L357.92,330.88 L358.49,330.84 L359.06,330.81 L359.62,330.77 L360.19,330.73 L360.75,330.69 L361.32,330.65 L361.88,330.61 L362.44,330.57 L363.01,330.52 L363.57,330.46 L364.13,330.40 L364.69,330.33 L364.83,330.32 M371.21,329.52 L371.45,329.49 L372.01,329.43 L372.57,329.37 L373.14,329.33 L373.70,329.30 L374.27,329.30 L374.83,329.30 L375.40,329.29 L375.96,329.29 L376.53,329.29 L377.09,329.29 L377.66,329.29 L378.22,329.28 L378.41,329.28 M384.79,329.26 L385.01,329.26 L385.58,329.26 L386.14,329.26 L386.71,329.26 L387.27,329.26 L387.84,329.26 L388.41,329.25 L388.97,329.25 L389.54,329.25 L390.10,329.25 L390.67,329.25 L391.24,329.25 L391.80,329.25 L391.99,329.25 M398.37,329.23 L398.60,329.23 L399.17,329.23 L399.74,329.23 L400.30,329.23 L400.87,329.23 L401.44,329.23 L402.00,329.23 L402.57,329.23 L403.14,329.23 L403.70,329.23 L404.27,329.23 L404.84,329.22 L405.40,329.22 L405.57,329.22 M411.95,329.21 L412.20,329.21 L412.77,329.21 L413.34,329.21 L413.90,329.21 L414.47,329.21 L415.04,329.21 L415.60,329.21 L416.17,329.21 L416.73,329.20 L417.30,329.20 L417.87,329.20 L418.43,329.20 L419.00,329.20" stroke="#000000"/>
<path d="M72.00,547.30 L72.84,547.30 L73.67,547.30 L74.51,547.30 L75.35,547.30 L76.18,547.30 L77.02,547.30 L77.86,547.30 L78.69,547.30 L79.53,547.30 L80.36,547.30 L81.20,547.30 L82.03,547.30 L82.86,547.30 L83.69,547.26 L84.52,547.13 L85.34,546.96 L86.15,546.76 L86.95,546.53 L87.75,546.25 L88.52,545.92 L89.27,545.57 L90.00,545.18 L90.72,544.74 L91.43,544.28 L92.12,543.78 L92.77,543.26 L93.39,542.72 L93.98,542.15 L94.55,541.54 L95.09,540.90 L95.62,540.24 L96.14,539.57 L96.64,538.89 L97.13,538.22 L97.61,537.54 L98.09,536.86 L98.55,536.16 L99.01,535.46 L99.45,534.75 L99.89,534.03 L100.31,533.31 L100.71,532.58 L101.10,531.85 L101.48,531.10 L101.85,530.36 L102.21,529.60 L102.56,528.84 L102.91,528.08 L103.26,527.32 L103.60,526.56 L103.94,525.79 L104.29,525.03 L104.64,524.28 L104.99,523.52 L105.34,522.76 L105.69,522.00 L106.04,521.24 L106.39,520.48 L106.73,519.72 L107.06,518.95 L107.39,518.19 L107.72,517.42 L108.06,516.65 L108.39,515.88 L108.71,515.11 L109.03,514.34 L109.34,513.56 L109.63,512.78 L109.90,512.00 L110.16,511.20 L110.40,510.41 L110.64,509.61 L110.86,508.80 L111.08,507.99 L111.30,507.19 L111.51,506.38 L111.72,505.57 L111.93,504.76 L112.14,503.95 L112.36,503.14 L112.56,502.33 L112.77,501.53 L112.98,500.72 L113.18,499.91 L113.39,499.10 L113.59,498.29 L113.79,497.48 L113.99,496.66 L114.19,495.85 L114.39,495.04 L114.58,494.23 L114.78,493.42 L114.97,492.61 L115.17,491.79 L115.37,490.98 L115.57,490.17 L115.76,489.36 L115.96,488.55 L116.16,487.74 L116.35,486.92 L116.55,486.11 L116.74,485.30 L116.93,484.48 L117.12,483.67 L117.30,482.85 L117.48,482.04 L117.65,481.22 L117.82,480.41 L117.98,479.59 L118.14,478.77 L118.30,477.95 L118.46,477.13 L118.61,476.31 L118.76,475.49 L118.91,474.67 L119.06,473.84 L119.21,473.02 L119.35,472.20 L119.49,471.38 L119.64,470.55 L119.78,469.73 L119.92,468.91 L120.05,468.08 L120.19,467.26 L120.33,466.43 L120.46,465.61 L120.60,464.78 L120.73,463.96 L120.86,463.13 L121.00,462.31 L121.13,461.48 L121.26,460.66 L121.39,459.84 L121.52,459.01 L121.65,458.19 L121.77,457.36 L121.90,456.53 L122.02,455.71 L122.14,454.88 L122.26,454.06 L122.38,453.23 L122.50,452.40 L122.62,451.58 L122.74,450.75 L122.85,449.92 L122.97,449.10 L123.09,448.27 L123.21,447.44 L123.33,446.61 L123.44,445.79 L123.56,444.96 L123.68,444.13 L123.80,443.31 L123.93,442.48 L124.05,441.66 L124.17,440.83 L124.30,440.00 L124.43,439.18 L124.56,438.35 L124.69,437.53 L124.82,436.70 L124.95,435.88 L125.09,435.06 L125.23,434.23 L125.37,433.41 L125.50,432.59 L125.64,431.76 L125.78,430.94 L125.92,430.11 L126.06,429.29 L126.20,428.47 L126.34,427.64 L126.48,426.82 L126.62,426.00 L126.76,425.17 L126.91,424.35 L127.05,423.53 L127.20,422.71 L127.34,421.88 L127.49,421.06 L127.64,420.24 L127.78,419.42 L127.93,418.60 L128.08,417.78 L128.23,416.95 L128.39,416.13 L128.54,415.31 L128.69,414.49 L128.85,413.67 L129.00,412.85 L129.16,412.03 L129.31,411.21 L129.47,410.39 L129.63,409.57 L129.79,408.75 L129.95,407.93 L130.11,407.11 L130.27,406.29 L130.43,405.47 L130.59,404.65 L130.76,403.83 L130.92,403.01 L131.09,402.19 L131.25,401.37 L131.42,400.56 L131.59,399.74 L131.76,398.92 L131.93,398.10 L132.11,397.29 L132.28,396.47 L132.46,395.65 L132.64,394.84 L132.81,394.02 L132.99,393.21 L133.17,392.39 L133.36,391.58 L133.54,390.76 L133.73,389.95 L133.92,389.13 L134.11,388.32 L134.31,387.51 L134.50,386.69 L134.71,385.88 L134.91,385.07 L135.12,384.27 L135.34,383.46 L135.56,382.66 L135.78,381.85 L136.01,381.05 L136.26,380.25 L136.50,379.46 L136.76,378.66 L137.02,377.87 L137.28,377.07 L137.55,376.28 L137.82,375.49 L138.09,374.70 L138.37,373.91 L138.65,373.12 L138.93,372.34 L139.21,371.55 L139.49,370.76 L139.77,369.97 L140.06,369.18 L140.36,368.40 L140.65,367.62 L140.96,366.84 L141.28,366.07 L141.61,365.30 L141.95,364.54 L142.30,363.79 L142.68,363.06 L143.08,362.33 L143.50,361.61 L143.94,360.89 L144.39,360.18 L144.84,359.48 L145.30,358.77 L145.75,358.07 L146.19,357.36 L146.65,356.65 L147.11,355.95 L147.58,355.26 L148.08,354.59 L148.60,353.95 L149.16,353.30 L149.75,352.66 L150.38,352.10 L151.04,351.68 L151.79,351.35 L152.59,351.08 L153.43,350.87 L154.24,350.73 L155.06,350.61 L155.88,350.50 L156.71,350.40 L157.54,350.31 L158.38,350.23 L159.21,350.15 L160.05,350.07 L160.88,349.99 L161.72,349.92 L162.55,349.84 L163.38,349.75 L164.21,349.66 L165.04,349.57 L165.87,349.47 L166.71,349.38 L167.54,349.29 L168.37,349.20 L169.20,349.12 L170.03,349.05 L170.86,348.98 L171.69,348.92 L172.53,348.88 L173.36,348.84 L174.19,348.80 L175.03,348.77 L175.86,348.74 L176.70,348.71 L177.53,348.68 L178.37,348.66 L179.20,348.63 L180.04,348.60 L180.87,348.57 L181.71,348.54 L182.54,348.51 L183.38,348.48 L184.21,348.46 L185.05,348.43 L185.88,348.40 L186.72,348.37 L187.55,348.34 L188.39,348.31 L189.22,348.28 L190.05,348.25 L190.89,348.22 L191.72,348.18 L192.56,348.14 L193.39,348.10 L194.23,348.06 L195.06,348.02 L195.89,347.98 L196.73,347.93 L197.56,347.89 L198.40,347.84 L199.23,347.79 L200.06,347.75 L200.90,347.70 L201.73,347.66 L202.57,347.61 L203.40,347.57 L204.23,347.53 L205.07,347.50 L205.90,347.46 L206.74,347.43 L207.57,347.40 L208.41,347.38 L209.24,347.35 L210.08,347.32 L210.91,347.29 L211.75,347.26 L212.58,347.22 L213.41,347.18 L214.25,347.13 L215.08,347.09 L215.92,347.04 L216.75,346.99 L217.58,346.93 L218.42,346.88 L219.25,346.82 L220.09,346.76 L220.92,346.69 L221.75,346.63 L222.58,346.56 L223.42,346.49 L224.25,346.41 L225.08,346.34 L225.91,346.26 L226.74,346.18 L227.57,346.09 L228.40,346.00 L229.23,345.90 L230.05,345.80 L230.88,345.69 L231.71,345.57 L232.53,345.44 L233.36,345.32 L234.19,345.18 L235.01,345.04 L235.83,344.90 L236.66,344.76 L237.48,344.61 L238.30,344.46 L239.13,344.31 L239.95,344.15 L240.77,344.00 L241.59,343.85 L242.41,343.69 L243.22,343.52 L244.04,343.35 L244.86,343.17 L245.67,342.99 L246.48,342.80 L247.30,342.62 L248.11,342.42 L248.93,342.23 L249.74,342.04 L250.55,341.84 L251.36,341.65 L252.18,341.46 L252.99,341.26 L253.80,341.07 L254.62,340.89 L255.43,340.70 L256.25,340.52 L257.07,340.35 L257.89,340.18 L258.71,340.01 L259.53,339.84 L260.35,339.67 L261.17,339.50 L261.99,339.33 L262.81,339.15 L263.62,338.98 L264.44,338.79 L265.25,338.61 L266.06,338.41 L266.87,338.21 L267.67,338.01 L268.48,337.79 L269.27,337.56 L270.06,337.30 L270.85,337.00 L271.62,336.69 L272.40,336.37 L273.17,336.04 L273.95,335.72 L274.73,335.40 L275.51,335.11 L276.29,334.84 L277.09,334.60 L277.89,334.39 L278.70,334.19 L279.51,333.99 L280.32,333.80 L281.13,333.61 L281.95,333.43 L282.77,333.26 L283.59,333.10 L284.42,332.94 L285.24,332.79 L286.07,332.64 L286.89,332.50 L287.71,332.36 L288.54,332.23 L289.36,332.11 L290.19,331.98 L291.01,331.86 L291.84,331.75 L292.67,331.64 L293.50,331.53 L294.33,331.43 L295.16,331.33 L295.99,331.23 L296.82,331.14 L297.65,331.05 L298.48,330.96 L299.31,330.88 L300.14,330.80 L300.97,330.72 L301.80,330.65 L302.64,330.58 L303.47,330.52 L304.30,330.45 L305.13,330.39 L305.97,330.33 L306.80,330.26 L307.63,330.20 L308.47,330.13 L309.30,330.07 L310.13,330.00 L310.96,329.92 L311.79,329.83 L312.63,329.74 L313.46,329.64 L314.29,329.55 L315.12,329.46 L315.95,329.39 L316.78,329.34 L317.62,329.31 L318.45,329.30 L319.28,329.29 L320.12,329.28 L320.95,329.28 L321.79,329.27 L322.62,329.27 L323.46,329.26 L324.29,329.26 L325.13,329.26 L325.96,329.25 L326.80,329.25 L327.63,329.25 L328.47,329.24 L329.30,329.24 L330.14,329.24 L330.97,329.23 L331.81,329.23 L332.64,329.23 L333.48,329.23 L334.32,329.22 L335.15,329.22 L335.99,329.22 L336.82,329.22 L337.66,329.21 L338.49,329.21 L339.33,329.21 L340.16,329.20 L341.00,329.20" stroke="#ff0000"/>
<path d="M72.00,547.50 L72.43,547.50 L72.86,547.50 L73.29,547.49 L73.72,547.49 L74.15,547.49 L74.58,547.49 L75.01,547.49 L75.45,547.48 L75.88,547.48 L76.31,547.48 L76.74,547.48 L77.17,547.48 L77.61,547.48 L78.04,547.47 L78.07,547.47 M84.44,547.45 L84.50,547.44 L84.93,547.44 L85.36,547.44 L85.79,547.44 L86.22,547.43 L86.64,547.43 L87.07,547.43 L87.50,547.42 L87.92,547.42 L88.35,547.42 L88.77,547.41 L89.19,547.41 L89.62,547.40 L90.04,547.40 L90.46,547.37 L90.89,547.32 L91.31,547.23 L91.64,547.14 M98.01,543.80 L98.18,543.70 L98.56,543.49 L98.95,543.29 L99.34,543.08 L99.74,542.88 L100.13,542.68 L100.53,542.48 L100.92,542.27 L101.30,542.06 L101.68,541.85 L102.06,541.64 L102.42,541.41 L102.77,541.18 L103.11,540.95 L103.44,540.70 L103.75,540.44 L104.04,540.17 L104.32,539.87 L104.58,539.54 L104.83,539.20 L104.97,539.00 M108.86,532.63 L108.90,532.55 L109.11,532.18 L109.32,531.80 L109.54,531.43 L109.75,531.05 L109.96,530.67 L110.17,530.30 L110.38,529.92 L110.59,529.54 L110.79,529.16 L111.00,528.78 L111.19,528.40 L111.39,528.01 L111.57,527.63 L111.75,527.24 L111.93,526.85 L112.09,526.46 L112.25,526.06 L112.41,525.67 L112.49,525.43 M114.48,519.06 L114.60,518.69 L114.73,518.28 L114.86,517.87 L114.99,517.47 L115.12,517.06 L115.25,516.65 L115.38,516.24 L115.51,515.83 L115.63,515.42 L115.76,515.01 L115.89,514.59 L116.01,514.18 L116.13,513.77 L116.25,513.36 L116.36,512.94 L116.47,512.53 L116.58,512.12 L116.65,511.86 M118.20,505.49 L118.21,505.44 L118.30,505.02 L118.38,504.60 L118.46,504.17 L118.54,503.75 L118.62,503.33 L118.69,502.91 L118.77,502.49 L118.84,502.06 L118.91,501.64 L118.98,501.22 L119.05,500.79 L119.12,500.37 L119.19,499.95 L119.26,499.52 L119.32,499.10 L119.39,498.67 L119.45,498.29 M120.38,491.92 L120.39,491.87 L120.45,491.44 L120.51,491.02 L120.58,490.59 L120.64,490.17 L120.70,489.74 L120.77,489.32 L120.84,488.89 L120.90,488.47 L120.97,488.04 L121.04,487.62 L121.11,487.20 L121.18,486.77 L121.25,486.35 L121.33,485.93 L121.40,485.50 L121.48,485.08 L121.55,484.72 M122.86,478.35 L122.93,477.92 L123.00,477.50 L123.07,477.08 L123.14,476.65 L123.21,476.23 L123.27,475.80 L123.34,475.38 L123.40,474.95 L123.46,474.53 L123.52,474.10 L123.58,473.68 L123.64,473.25 L123.70,472.83 L123.76,472.40 L123.82,471.98 L123.87,471.55 L123.92,471.15 M124.70,464.78 L124.71,464.73 L124.78,464.31 L124.86,463.89 L124.94,463.46 L125.03,463.04 L125.12,462.62 L125.21,462.21 L125.31,461.79 L125.41,461.37 L125.50,460.95 L125.60,460.53 L125.70,460.11 L125.80,459.69 L125.89,459.27 L125.98,458.85 L126.07,458.43 L126.16,458.01 L126.24,457.59 L126.24,457.58 M127.46,451.21 L127.53,450.84 L127.62,450.42 L127.72,450.00 L127.81,449.58 L127.90,449.16 L128.00,448.74 L128.09,448.32 L128.19,447.91 L128.29,447.49 L128.39,447.07 L128.49,446.65 L128.59,446.23 L128.70,445.82 L128.80,445.40 L128.90,444.98 L129.01,444.57 L129.12,444.15 L129.15,444.01 M130.97,437.64 L131.00,437.53 L131.11,437.12 L131.22,436.70 L131.32,436.29 L131.41,435.87 L131.51,435.45 L131.59,435.03 L131.67,434.61 L131.75,434.19 L131.81,433.76 L131.87,433.34 L131.93,432.91 L131.99,432.49 L132.06,432.06 L132.12,431.64 L132.20,431.21 L132.28,430.79 L132.34,430.44 M133.76,424.07 L133.86,423.66 L133.97,423.25 L134.08,422.84 L134.20,422.42 L134.32,422.01 L134.44,421.60 L134.56,421.18 L134.68,420.77 L134.81,420.36 L134.94,419.95 L135.07,419.54 L135.20,419.13 L135.33,418.72 L135.47,418.31 L135.60,417.91 L135.74,417.50 L135.87,417.09 L135.94,416.87 M138.22,410.50 L138.35,410.22 L138.53,409.84 L138.72,409.46 L138.92,409.09 L139.13,408.72 L139.35,408.35 L139.58,407.98 L139.81,407.62 L140.05,407.26 L140.29,406.90 L140.54,406.55 L140.78,406.19 L141.03,405.83 L141.28,405.48 L141.53,405.12 L141.78,404.77 L142.02,404.41 L142.26,404.06 L142.50,403.70 L142.74,403.35 L142.78,403.30 M147.26,396.93 L147.43,396.67 L147.66,396.30 L147.89,395.94 L148.11,395.58 L148.34,395.21 L148.56,394.84 L148.78,394.47 L149.00,394.10 L149.22,393.73 L149.44,393.36 L149.65,392.99 L149.86,392.61 L150.07,392.24 L150.28,391.86 L150.48,391.48 L150.69,391.10 L150.88,390.72 L151.08,390.34 L151.27,389.96 L151.39,389.73 M154.24,383.36 L154.27,383.30 L154.44,382.90 L154.61,382.51 L154.78,382.11 L154.94,381.71 L155.10,381.32 L155.26,380.92 L155.43,380.52 L155.59,380.12 L155.75,379.72 L155.91,379.32 L156.08,378.92 L156.24,378.53 L156.42,378.13 L156.59,377.74 L156.78,377.36 L156.96,376.97 L157.15,376.59 L157.35,376.20 L157.37,376.16 M161.40,369.82 L161.49,369.75 L161.80,369.50 L162.13,369.26 L162.48,369.03 L162.84,368.80 L163.21,368.59 L163.60,368.38 L163.99,368.17 L164.39,367.98 L164.80,367.78 L165.21,367.60 L165.62,367.42 L166.04,367.25 L166.45,367.08 L166.86,366.92 L167.27,366.76 L167.67,366.61 L168.07,366.46 L168.47,366.32 L168.60,366.27 M174.97,364.56 L175.11,364.55 L175.53,364.49 L175.96,364.44 L176.38,364.39 L176.81,364.34 L177.24,364.29 L177.67,364.25 L178.10,364.21 L178.52,364.17 L178.96,364.14 L179.39,364.11 L179.82,364.08 L180.25,364.05 L180.68,364.03 L181.11,364.02 L181.54,364.00 L181.96,363.99 L182.17,363.99 M188.54,363.90 L188.84,363.89 L189.27,363.87 L189.69,363.85 L190.12,363.83 L190.55,363.80 L190.98,363.78 L191.41,363.75 L191.84,363.71 L192.27,363.68 L192.69,363.65 L193.12,363.62 L193.55,363.59 L193.98,363.56 L194.41,363.53 L194.84,363.51 L195.27,363.49 L195.70,363.47 L195.74,363.47 M202.11,363.12 L202.12,363.12 L202.55,363.08 L202.98,363.03 L203.40,362.98 L203.83,362.93 L204.25,362.87 L204.68,362.82 L205.11,362.76 L205.53,362.69 L205.96,362.63 L206.38,362.57 L206.81,362.50 L207.23,362.43 L207.66,362.36 L208.08,362.29 L208.51,362.22 L208.93,362.15 L209.31,362.08 M215.68,360.97 L215.71,360.97 L216.13,360.89 L216.55,360.81 L216.98,360.74 L217.40,360.66 L217.82,360.58 L218.24,360.50 L218.67,360.42 L219.09,360.34 L219.51,360.25 L219.93,360.17 L220.35,360.08 L220.78,360.00 L221.20,359.91 L221.62,359.83 L222.04,359.74 L222.46,359.65 L222.88,359.56 L222.88,359.56 M229.25,358.06 L229.56,357.98 L229.97,357.87 L230.39,357.76 L230.80,357.64 L231.22,357.53 L231.63,357.41 L232.05,357.30 L232.46,357.18 L232.87,357.06 L233.29,356.94 L233.70,356.82 L234.11,356.69 L234.52,356.57 L234.93,356.45 L235.35,356.32 L235.76,356.19 L236.17,356.06 L236.45,355.97 M242.82,353.88 L243.10,353.78 L243.51,353.64 L243.91,353.50 L244.31,353.35 L244.72,353.20 L245.12,353.06 L245.52,352.91 L245.93,352.76 L246.33,352.61 L246.73,352.46 L247.13,352.30 L247.53,352.15 L247.94,352.00 L248.34,351.84 L248.74,351.68 L249.14,351.53 L249.54,351.37 L249.94,351.21 L250.02,351.18 M256.39,348.64 L256.72,348.51 L257.12,348.35 L257.52,348.19 L257.92,348.03 L258.32,347.86 L258.72,347.70 L259.11,347.54 L259.51,347.38 L259.91,347.21 L260.31,347.05 L260.70,346.89 L261.10,346.72 L261.50,346.56 L261.89,346.39 L262.29,346.23 L262.69,346.06 L263.08,345.89 L263.48,345.72 L263.59,345.68 M269.96,342.86 L270.15,342.77 L270.54,342.59 L270.93,342.40 L271.31,342.21 L271.70,342.02 L272.08,341.83 L272.47,341.63 L272.85,341.44 L273.24,341.24 L273.62,341.05 L274.00,340.85 L274.39,340.65 L274.77,340.46 L275.15,340.26 L275.53,340.06 L275.92,339.87 L276.30,339.67 L276.68,339.47 L277.07,339.28 L277.16,339.23 M283.53,336.32 L283.70,336.26 L284.10,336.10 L284.50,335.94 L284.90,335.79 L285.30,335.64 L285.70,335.49 L286.11,335.34 L286.51,335.19 L286.92,335.05 L287.33,334.90 L287.73,334.76 L288.14,334.63 L288.55,334.49 L288.96,334.36 L289.37,334.23 L289.78,334.10 L290.19,333.98 L290.60,333.86 L290.73,333.82 M297.10,332.18 L297.26,332.15 L297.68,332.06 L298.10,331.98 L298.53,331.90 L298.95,331.83 L299.37,331.76 L299.79,331.69 L300.21,331.62 L300.64,331.56 L301.06,331.50 L301.49,331.44 L301.91,331.38 L302.34,331.32 L302.76,331.26 L303.19,331.21 L303.62,331.16 L304.04,331.10 L304.30,331.07 M310.67,330.33 L310.88,330.30 L311.30,330.25 L311.73,330.19 L312.16,330.14 L312.58,330.08 L313.01,330.03 L313.44,329.97 L313.86,329.92 L314.29,329.86 L314.71,329.81 L315.14,329.76 L315.57,329.71 L316.00,329.67 L316.42,329.63 L316.85,329.59 L317.28,329.55 L317.71,329.52 L317.87,329.51 M324.24,329.23 L324.57,329.22 L325.00,329.20" stroke="#ff0000"/>
</g>
<rect x="293" y="380.4" width="90.5" height="77.60000000000002" fill="#000"/>
<rect x="286.5" y="374.2" width="91" height="77.80000000000001" fill="#fff" stroke="#333" stroke-width="1"/>
<path d="M293.1,385.4 L329.5,385.4" stroke="#000000" stroke-width="1.7" fill="none"/>
<text transform="matrix(1.03 0.0002 0 1 333.1 390.7)" font-family="Liberation Sans, sans-serif" font-size="15.2" fill="#000" stroke="#000" stroke-width="0.2">WC-a</text>
<path d="M293.1,404.8 L329.5,404.8" stroke="#000000" stroke-width="1.7" stroke-dasharray="7.5 6.2" fill="none"/>
<text transform="matrix(1.03 0.0002 0 1 333.1 410.1)" font-family="Liberation Sans, sans-serif" font-size="15.2" fill="#000" stroke="#000" stroke-width="0.2">WC-c</text>
<path d="M293.1,424.0 L329.5,424.0" stroke="#ff0000" stroke-width="1.7" fill="none"/>
<text transform="matrix(1.03 0.0002 0 1 333.1 429.3)" font-family="Liberation Sans, sans-serif" font-size="15.2" fill="#000" stroke="#000" stroke-width="0.2">WN-a</text>
<path d="M293.1,443.2 L329.5,443.2" stroke="#ff0000" stroke-width="1.7" stroke-dasharray="7.5 6.2" fill="none"/>
<text transform="matrix(1.03 0.0002 0 1 333.1 448.5)" font-family="Liberation Sans, sans-serif" font-size="15.2" fill="#000" stroke="#000" stroke-width="0.2">WN-c</text>
<g font-family="Liberation Sans, sans-serif" font-size="15" fill="#000" stroke="#000" stroke-width="0.25">
<text transform="matrix(1.035 0.0002 0 1 62.3 552.10)" text-anchor="end">0.0</text>
<text transform="matrix(1.035 0.0002 0 1 62.3 508.34)" text-anchor="end">0.2</text>
<text transform="matrix(1.035 0.0002 0 1 62.3 464.58)" text-anchor="end">0.4</text>
<text transform="matrix(1.035 0.0002 0 1 62.3 420.82)" text-anchor="end">0.6</text>
<text transform="matrix(1.035 0.0002 0 1 62.3 377.06)" text-anchor="end">0.8</text>
<text transform="matrix(1.035 0.0002 0 1 62.3 333.30)" text-anchor="end">1.0</text>
<text transform="matrix(1.035 0.0002 0 1 71.30 569.3)" text-anchor="middle">0</text>
<text transform="matrix(1.035 0.0002 0 1 146.85 569.3)" text-anchor="middle">5</text>
<text transform="matrix(1.035 0.0002 0 1 222.40 569.3)" text-anchor="middle">10</text>
<text transform="matrix(1.035 0.0002 0 1 297.95 569.3)" text-anchor="middle">15</text>
<text transform="matrix(1.035 0.0002 0 1 373.50 569.3)" text-anchor="middle">20</text>
</g>
<text transform="matrix(1 0.0002 0 1 0 0)" x="241" y="591" text-anchor="middle" font-family="Liberation Sans, sans-serif" font-size="19" fill="#000" stroke="#000" stroke-width="0.2">Frequency (THz)</text>
<text transform="translate(29.2,500.9) rotate(-90) scale(0.935,1)" font-family="Liberation Sans, sans-serif" font-size="20.2" fill="#000" stroke="#000" stroke-width="0.2">Contribution (%)</text>
</svg>
</body></html>
